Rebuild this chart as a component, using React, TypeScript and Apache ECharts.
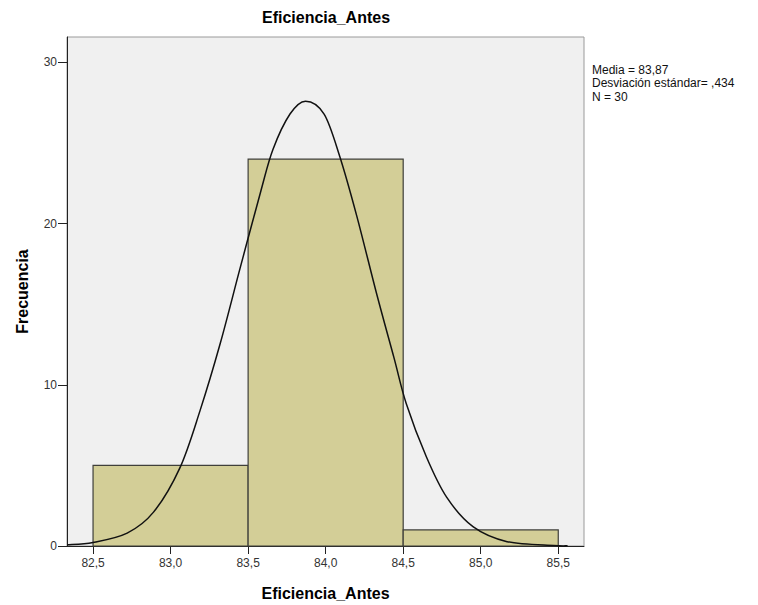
import React, { useEffect, useRef } from "react";
import * as echarts from "echarts";

const binStarts = [82.5, 83.5, 84.5];
const binEnds = [83.5, 84.5, 85.5];
const counts = [5, 24, 1];

const curveX = [82.334, 82.5, 82.72, 82.89, 83.06, 83.19, 83.32, 83.45, 83.58, 83.66, 83.77, 83.87, 83.99, 84.09, 84.2, 84.33, 84.44, 84.52, 84.65, 84.78, 84.95, 85.17, 85.47, 85.56];
const curveY = [0.08, 0.22, 0.8, 2.1, 4.85, 8.4, 12.56, 17.3, 21.95, 24.6, 26.8, 27.6, 26.8, 24.2, 20.5, 15.6, 11.7, 8.83, 5.52, 3.03, 1.2, 0.27, 0.03, 0.01];

const xTicks = [82.5, 83.0, 83.5, 84.0, 84.5, 85.0, 85.5];
const yTicks = [0, 10, 20, 30];

const statsLines = ["Media = 83,87", "Desviación estándar= ,434", "N = 30"];

const FONT = "'Liberation Sans', Arial, sans-serif";

function catmullRomPath(pts: number[][]): string {
  const n = pts.length;
  let d = `M${pts[0][0]},${pts[0][1]}`;
  for (let i = 0; i < n - 1; i++) {
    const p0 = pts[Math.max(0, i - 1)];
    const p1 = pts[i];
    const p2 = pts[i + 1];
    const p3 = pts[Math.min(n - 1, i + 2)];
    const c1x = p1[0] + (p2[0] - p0[0]) / 6;
    const c1y = p1[1] + (p2[1] - p0[1]) / 6;
    const c2x = p2[0] - (p3[0] - p1[0]) / 6;
    const c2y = p2[1] - (p3[1] - p1[1]) / 6;
    d += ` C${c1x},${c1y} ${c2x},${c2y} ${p2[0]},${p2[1]}`;
  }
  return d;
}

export default function App() {
  const ref = useRef<HTMLDivElement>(null);
  useEffect(() => {
    if (!ref.current) return;
    const chart = echarts.init(ref.current, undefined, { renderer: "svg" });
    const bins = binStarts.map((s, i) => [s, binEnds[i], counts[i]]);
    const curve = curveX.map((x, i) => [x, curveY[i]]);
    chart.setOption({
      animation: false,
      backgroundColor: "#ffffff",
      textStyle: { fontFamily: FONT },
      grid: {
        left: 67,
        right: 174,
        top: 37,
        bottom: 59,
        outerBoundsMode: "none",
        containLabel: false,
        show: true,
        backgroundColor: "#F0F0F0",
        borderColor: "#9a9a9a",
        borderWidth: 1,
      },
      graphic: [
        {
          type: "text",
          x: 326,
          y: 9,
          style: {
            text: "Eficiencia_Antes",
            font: `bold 16px ${FONT}`,
            fill: "#000",
            textAlign: "center",
          },
        },
        {
          type: "text",
          x: 592,
          y: 63,
          style: {
            text: statsLines.join("\n"),
            font: `12px ${FONT}`,
            lineHeight: 13.5,
            fill: "#111",
          },
        },
      ],
      xAxis: {
        type: "value",
        min: 82.332,
        max: 85.666,
        name: "Eficiencia_Antes",
        nameLocation: "middle",
        nameGap: 39,
        nameTextStyle: { fontSize: 16, fontWeight: "bold", color: "#000", fontFamily: FONT },
        splitLine: { show: false },
        axisLine: { show: true, lineStyle: { color: "#222", width: 1 } },
        axisTick: { show: true, length: 8, customValues: xTicks, lineStyle: { color: "#222" } },
        axisLabel: {
          customValues: xTicks,
          color: "#333",
          fontSize: 12,
          margin: 11,
          formatter: (v: number) => v.toFixed(1).replace(".", ","),
        },
      },
      yAxis: {
        type: "value",
        min: 0,
        max: 31.58,
        name: "Frecuencia",
        nameLocation: "middle",
        nameGap: 37,
        nameTextStyle: { fontSize: 16, fontWeight: "bold", color: "#000", fontFamily: FONT },
        splitLine: { show: false },
        axisLine: { show: true, lineStyle: { color: "#222", width: 1 } },
        axisTick: { show: true, length: 9, customValues: yTicks, lineStyle: { color: "#222" } },
        axisLabel: {
          customValues: yTicks,
          color: "#333",
          fontSize: 12,
          margin: 10,
        },
      },
      series: [
        {
          type: "custom",
          data: bins,
          renderItem: (params: any, api: any) => {
            const p0 = api.coord([api.value(0), api.value(2)]);
            const p1 = api.coord([api.value(1), 0]);
            return {
              type: "rect",
              shape: { x: p0[0], y: p0[1], width: p1[0] - p0[0], height: p1[1] - p0[1] },
              style: { fill: "#D3CE97", stroke: "#3f3f3a", lineWidth: 1.2 },
            };
          },
          encode: { x: [0, 1], y: 2 },
          z: 2,
        },
        {
          type: "custom",
          data: [curve[0]],
          encode: { x: 0, y: 1 },
          renderItem: (params: any, api: any) => {
            const pts = curve.map((c) => api.coord(c));
            return {
              type: "path",
              shape: { pathData: catmullRomPath(pts) },
              style: { fill: "none", stroke: "#111", lineWidth: 1.5 },
            };
          },
          z: 3,
        },
      ],
    });
    return () => chart.dispose();
  }, []);
  return <div ref={ref} style={{ width: 758, height: 605, marginLeft: -8, marginTop: -8 }} />;
}
